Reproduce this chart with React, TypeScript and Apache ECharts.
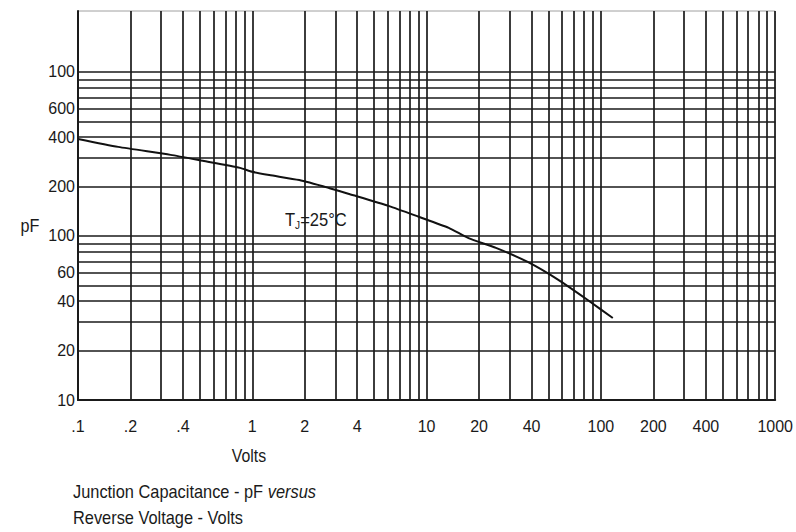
import React, { useEffect, useRef } from "react";
import * as echarts from "echarts";

// Reverse voltage (V) and junction capacitance (pF)
const voltage = [0.1, 0.17, 0.34, 0.52, 0.85, 1, 1.25, 1.86, 2.75, 3.6, 6.1, 9, 13.4, 17.4, 25, 38, 57, 84, 117];
const capacitance = [390, 349, 312, 287, 260, 246, 235, 219, 196, 180, 152, 131, 112, 97, 84.5, 69.4, 54, 40.7, 31.6];

// Grid lines (log paper)
const xGridValues = [
  0.1, 0.2, 0.3, 0.4, 0.5, 0.6, 0.7, 0.8, 0.9,
  1, 2, 3, 4, 5, 6, 7, 8, 9,
  10, 20, 30, 40, 50, 60, 70, 80, 90,
  100, 200, 300, 400, 500, 600, 700, 800, 900,
  1000,
];
const yGridValues = [
  10, 20, 30, 40, 50, 60, 70, 80, 90,
  100, 200, 300, 400, 500, 600, 700, 800, 900,
  1000,
];

// Tick labels
const xLabelValues = [0.1, 0.2, 0.4, 1, 2, 4, 10, 20, 40, 100, 200, 400, 1000];
const xLabelTexts = [".1", ".2", ".4", "1", "2", "4", "10", "20", "40", "100", "200", "400", "1000"];
const yLabelValues = [10, 20, 40, 60, 100, 200, 400, 600, 1000];
const yLabelTexts = ["10", "20", "40", "60", "100", "200", "400", "600", "100"];

const FONT = "'Liberation Sans', Arial, Helvetica, sans-serif";
const INK = "#1a1a1a";

function lookup(values: number[], texts: string[], v: number): string {
  for (let i = 0; i < values.length; i++) {
    if (Math.abs(values[i] - v) / values[i] < 1e-6) return texts[i];
  }
  return "";
}

export default function App() {
  const ref = useRef<HTMLDivElement>(null);

  useEffect(() => {
    if (!ref.current) return;
    const chart = echarts.init(ref.current, null, { renderer: "svg" });
    const option: any = {
      animation: false,
      backgroundColor: "#ffffff",
      grid: {
        left: 78,
        right: 18,
        top: 11,
        bottom: 132,
        show: true,
        borderColor: "#a0a0a0",
        borderWidth: 1,
      },
      xAxis: {
        type: "log",
        logBase: 10,
        min: 0.1,
        max: 1000,
        axisLine: { show: true, lineStyle: { color: INK, width: 2 } },
        axisTick: { show: false, customValues: xGridValues },
        axisLabel: {
          customValues: xLabelValues,
          formatter: (v: number) => lookup(xLabelValues, xLabelTexts, v),
          margin: 18,
          fontSize: 16,
          color: INK,
          fontFamily: FONT,
        },
        splitLine: { show: true, lineStyle: { color: INK, width: 1.7 } },
        minorTick: { show: false },
        minorSplitLine: { show: false },
      },
      yAxis: {
        type: "log",
        logBase: 10,
        min: 10,
        max: 2350,
        axisLine: { show: true, lineStyle: { color: INK, width: 2 } },
        axisTick: { show: false, customValues: yGridValues },
        axisLabel: {
          customValues: yLabelValues,
          formatter: (v: number) => lookup(yLabelValues, yLabelTexts, v),
          margin: 3,
          fontSize: 16,
          color: INK,
          fontFamily: FONT,
        },
        splitLine: { show: true, lineStyle: { color: INK, width: 1.7 } },
        minorTick: { show: false },
        minorSplitLine: { show: false },
      },
      series: [
        {
          type: "line",
          data: voltage.map((v, i) => [v, capacitance[i]]),
          showSymbol: false,
          symbol: "none",
          smooth: 0.2,
          lineStyle: { color: "#111111", width: 2 },
          z: 5,
        },
      ],
      graphic: [
        {
          type: "text",
          x: 30,
          y: 226,
          scaleX: 0.9,
          style: {
            text: "pF",
            fontSize: 18,
            fontFamily: FONT,
            fill: INK,
            align: "center",
            verticalAlign: "middle",
          },
        },
        {
          type: "text",
          x: 249,
          y: 456,
          scaleX: 0.88,
          style: {
            text: "Volts",
            fontSize: 18,
            fontFamily: FONT,
            fill: INK,
            align: "center",
            verticalAlign: "middle",
          },
        },
        {
          type: "text",
          x: 285,
          y: 220,
          z: 10,
          scaleX: 0.92,
          style: {
            text: "{a|T}{b|J}{a|=25°C}",
            fontFamily: FONT,
            fill: INK,
            align: "left",
            verticalAlign: "middle",
            rich: {
              a: { fontSize: 18, fontFamily: FONT, fill: INK, verticalAlign: "middle" },
              b: { fontSize: 11, fontFamily: FONT, fill: INK, padding: [9, 0, 0, 0] },
            },
          },
        },
        {
          type: "text",
          x: 73,
          y: 492,
          scaleX: 0.91,
          style: {
            text: "{n|Junction Capacitance - pF }{i|versus}",
            fontFamily: FONT,
            fill: INK,
            align: "left",
            verticalAlign: "middle",
            rich: {
              n: { fontSize: 18, fontFamily: FONT, fill: INK },
              i: { fontSize: 18, fontFamily: FONT, fontStyle: "italic", fill: INK },
            },
          },
        },
        {
          type: "text",
          x: 73,
          y: 518,
          scaleX: 0.91,
          style: {
            text: "Reverse Voltage - Volts",
            fontSize: 18,
            fontFamily: FONT,
            fill: INK,
            align: "left",
            verticalAlign: "middle",
          },
        },
      ],
    };
    chart.setOption(option);
    return () => {
      chart.dispose();
    };
  }, []);

  return (
    <div
      ref={ref}
      style={{ position: "fixed", left: 0, top: 0, width: 796, height: 532, background: "#fff" }}
    />
  );
}
